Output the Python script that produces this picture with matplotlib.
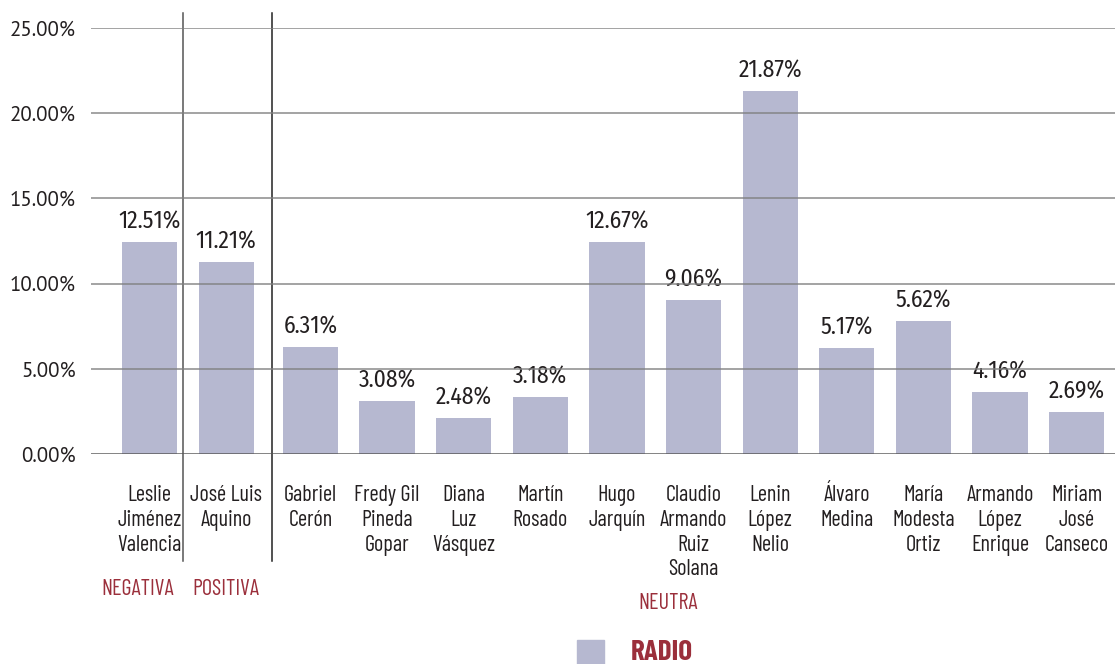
import numpy as np
import matplotlib.pyplot as plt
import matplotlib.transforms as mtransforms
from matplotlib.patches import Rectangle

NARROW = ['Barlow Condensed', 'DejaVu Sans']
COND = ['Fira Sans Condensed', 'DejaVu Sans']
plt.rcParams['font.family'] = ['PT Sans', 'DejaVu Sans']

candidates = ["Leslie\nJiménez\nValencia", "José Luis\nAquino", "Gabriel\nCerón",
              "Fredy Gil\nPineda\nGopar", "Diana\nLuz\nVásquez", "Martín\nRosado",
              "Hugo\nJarquín", "Claudio\nArmando\nRuiz\nSolana", "Lenin\nLópez\nNelio",
              "Álvaro\nMedina", "María\nModesta\nOrtiz", "Armando\nLópez\nEnrique",
              "Miriam\nJosé\nCanseco"]
bar_values = [12.44, 11.27, 6.29, 3.12, 2.13, 3.36, 12.44, 9.04, 21.30, 6.23, 7.81, 3.65, 2.48]
value_labels = ["12.51%", "11.21%", "6.31%", "3.08%", "2.48%", "3.18%", "12.67%",
                "9.06%", "21.87%", "5.17%", "5.62%", "4.16%", "2.69%"]
groups = ["NEGATIVA", "POSITIVA", "NEUTRA"]
y_ticks = [0, 5, 10, 15, 20, 25]
series_name = "RADIO"

bar_color = "#b6b8d0"
red = "#9b2f3b"
text_color = "#231f20"

fig = plt.figure(figsize=(11.15, 6.64), dpi=100)
ax = fig.add_axes([0.0816, 0.3158, 0.9184, 0.6423])

# small extra gap after the two first candidates
idx = np.arange(len(candidates))
x = idx + np.where(idx >= 2, 0.1, 0.0)

ax.bar(x, bar_values, width=0.72, color=bar_color, zorder=2)
for xi, v, lab in zip(x, bar_values, value_labels):
    ax.annotate(lab, (xi, v), xytext=(0, 6), textcoords="offset points",
                ha="center", va="bottom", fontsize=17, color=text_color, family=COND)

ax.set_xlim(-0.764, 12.6)
ax.set_ylim(0, 25)
ax.set_yticks(y_ticks)
ax.set_yticklabels([f"{t:.2f}%" for t in y_ticks], fontsize=15, color=text_color)
ax.tick_params(axis="y", length=0, pad=11)
ax.set_xticks(x)
ax.set_xticklabels(candidates, fontsize=16, color=text_color, linespacing=1.24,
                   va="top", family=NARROW)
ax.tick_params(axis="x", length=0, pad=22)

for t in y_ticks:
    ax.axhline(t, color="#555555" if t == 0 else "#808080", alpha=0.85, lw=1.2, zorder=3)
for s in ax.spines.values():
    s.set_visible(False)

# separators between sentiment groups
trans = mtransforms.blended_transform_factory(ax.transData, ax.transAxes)
ax.plot([0.433, 0.433], [-0.25, 1.034], transform=trans, color="#555555", lw=1.1, clip_on=False)
ax.plot([1.6, 1.6], [-0.25, 1.034], transform=trans, color="#222222", lw=1.1, clip_on=False)

# group labels
ax.text(x[0] - 0.15, -0.316, groups[0], transform=trans, ha="center", va="center",
        fontsize=16, color=red, family=NARROW)
ax.text(x[1], -0.316, groups[1], transform=trans, ha="center", va="center",
        fontsize=16, color=red, family=NARROW)
ax.text((x[2] + x[-1]) / 2 - 0.33, -0.35, groups[2], transform=trans, ha="center", va="center",
        fontsize=16, color=red, family=NARROW)

# legend
fig.patches.append(Rectangle((577 / 1115, 0), 27 / 1115, 24 / 664, transform=fig.transFigure,
                             color=bar_color))
fig.text(631 / 1115, 11 / 664, series_name, ha="left", va="center", fontsize=21,
         fontweight="bold", color=red, family=NARROW)

fig.savefig("out.png", dpi=100)
